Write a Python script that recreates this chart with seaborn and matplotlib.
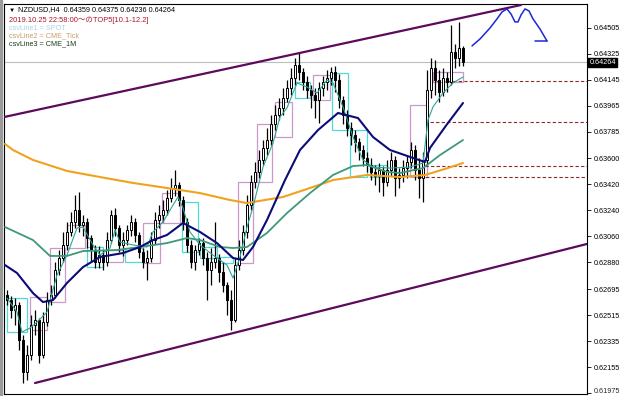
import numpy as np
import matplotlib
matplotlib.use("Agg")
import matplotlib.pyplot as plt
from matplotlib.patches import Rectangle
import seaborn as sns

# ---------------- data (NZDUSD H4) ----------------
open_first = 0.62655
close = [
0.62620,0.62551,0.62585,0.62343,0.62122,0.62239,0.62447,0.62482,0.62239,0.62468,
0.62620,0.62655,0.62828,0.62911,0.63001,0.63091,0.63160,0.63243,0.63139,0.63160,
0.63049,0.62966,0.62883,0.62931,0.62883,0.63035,0.63208,0.63118,0.63001,0.63035,
0.63104,0.63160,0.63070,0.62952,0.62883,0.62911,0.63035,0.63174,0.63208,0.63243,
0.63326,0.63395,0.63416,0.63312,0.63160,0.63001,0.62883,0.62966,0.63014,0.62911,
0.62828,0.62883,0.62911,0.62814,0.62724,0.62620,0.62482,0.62862,0.62966,0.63091,
0.63277,0.63437,0.63506,0.63589,0.63672,0.63727,0.63836,0.63900,0.63949,0.64018,
0.64087,0.64156,0.64246,0.64198,0.64129,0.64073,0.64039,0.64004,0.64087,0.64129,
0.64156,0.64198,0.64142,0.64004,0.63900,0.63810,0.63762,0.63713,0.63658,0.63603,
0.63554,0.63506,0.63478,0.63520,0.63437,0.63520,0.63589,0.63464,0.63485,0.63533,
0.63575,0.63658,0.63520,0.63464,0.63589,0.64073,0.64225,0.64142,0.64059,0.64156,
0.64129,0.64336,0.64295,0.64359,0.64264]
high = [
0.62689,0.62648,0.62634,0.62606,0.62378,0.62309,0.62516,0.62551,0.62495,0.62537,
0.62675,0.62724,0.62883,0.62966,0.63091,0.63160,0.63229,0.63347,0.63367,0.63208,
0.63187,0.63070,0.63001,0.62994,0.62966,0.63091,0.63243,0.63257,0.63139,0.63091,
0.63139,0.63208,0.63187,0.63091,0.62980,0.62966,0.63091,0.63229,0.63277,0.63312,
0.63381,0.63464,0.63520,0.63437,0.63340,0.63187,0.63035,0.63001,0.63049,0.63049,
0.62952,0.62980,0.63160,0.62938,0.62883,0.62745,0.62689,0.62911,0.63035,0.63139,
0.63347,0.63485,0.63575,0.63658,0.63727,0.63810,0.63900,0.63969,0.64018,0.64087,
0.64142,0.64225,0.64295,0.64336,0.64225,0.64170,0.64108,0.64087,0.64129,0.64170,
0.64212,0.64232,0.64239,0.64184,0.64032,0.63935,0.63852,0.63796,0.63741,0.63693,
0.63644,0.63603,0.63554,0.63568,0.63547,0.63589,0.63644,0.63617,0.63533,0.63589,
0.63623,0.63713,0.63693,0.63603,0.63644,0.64212,0.64295,0.64281,0.64212,0.64225,
0.64198,0.64523,0.64392,0.64544,0.64375]
low = [
0.62585,0.62495,0.62447,0.62274,0.62046,0.62066,0.62205,0.62378,0.62184,0.62219,
0.62440,0.62585,0.62634,0.62793,0.62883,0.62966,0.63063,0.63118,0.63091,0.63063,
0.62980,0.62883,0.62841,0.62841,0.62828,0.62855,0.63014,0.63063,0.62952,0.62925,
0.63001,0.63063,0.63021,0.62911,0.62841,0.62758,0.62883,0.63008,0.63118,0.63160,
0.63208,0.63298,0.63340,0.63271,0.63104,0.62952,0.62841,0.62828,0.62931,0.62862,
0.62620,0.62724,0.62841,0.62745,0.62675,0.62516,0.62412,0.62468,0.62828,0.62931,
0.63049,0.63243,0.63395,0.63464,0.63554,0.63623,0.63693,0.63796,0.63866,0.63900,
0.63990,0.64039,0.64108,0.64142,0.64073,0.64018,0.63949,0.63879,0.63845,0.64032,
0.64073,0.64108,0.64059,0.63949,0.63836,0.63755,0.63693,0.63644,0.63589,0.63547,
0.63506,0.63450,0.63416,0.63367,0.63340,0.63409,0.63478,0.63340,0.63395,0.63437,
0.63464,0.63533,0.63450,0.63326,0.63298,0.63554,0.64018,0.64039,0.63990,0.64032,
0.64059,0.64108,0.64225,0.64239,0.64236]

# moving averages (bar index, price)
ma_slow_x = [-0.5,1.5,6.5,15,23.25,31.5,40,48.25,55.75,60,64.5,69,75.75,81.5,90,98.25,104.5,109.5,114]
ma_slow_y = [0.63700,0.63658,0.63589,0.63513,0.63471,0.63430,0.63395,0.63360,0.63312,0.63291,
             0.63312,0.63333,0.63395,0.63450,0.63485,0.63471,0.63485,0.63527,0.63568]
ma_mid_x = [-0.5,6.5,10.75,15,19,27.5,33.25,40,45,48.25,53.25,56.5,60,65,70,75.75,81.5,86.5,90,95,98.25,104,108.25,114]
ma_mid_y = [0.63125,0.63035,0.62925,0.62925,0.62959,0.62966,0.62987,0.63014,0.63049,0.63035,0.62987,0.62980,
            0.62987,0.63084,0.63222,0.63360,0.63485,0.63547,0.63554,0.63506,0.63499,0.63533,0.63623,0.63727]
ma_fast_x = [-0.5,2.5,6.5,9,11.5,15,19,23.25,29,33.25,36.5,40,44,48.25,52.5,56.5,59,61.5,65,69.5,73.25,
             77.75,82.75,87.75,91.5,95.75,101.5,104.5,105.75,110,114]
ma_fast_y = [0.62862,0.62807,0.62668,0.62606,0.62620,0.62738,0.62848,0.62918,0.62945,0.62987,0.63035,0.63070,
             0.63153,0.63091,0.63014,0.62911,0.62897,0.62987,0.63174,0.63450,0.63658,0.63796,0.63914,0.63879,
             0.63748,0.63658,0.63603,0.63575,0.63672,0.63836,0.63983]
ma_tick_x = [0,2.5,3.75,5.75,7.5,10,12.5,15,17.5,19,21.5,23.25,25.75,27,28.25,31.5,35,36.5,39,41.5,42.75,44,
             45.75,48.25,51.5,55,56.5,58.25,60,61.5,64,66.5,68.25,70,72.5,75,77.5,80,81.5,84,86.5,89,91.5,
             95.75,100.75,104,105.25,106.5,109,111.5,114]
ma_tick_y = [0.62634,0.62537,0.62399,0.62426,0.62468,0.62537,0.62793,0.62931,0.63118,0.63125,0.63001,0.62931,
             0.62980,0.63104,0.63021,0.63001,0.62987,0.63091,0.63160,0.63277,0.63333,0.63257,0.63091,0.63001,
             0.62931,0.62862,0.62772,0.62918,0.63125,0.63264,0.63540,0.63706,0.63886,0.63949,0.64122,0.64094,
             0.64052,0.64142,0.64122,0.63956,0.63748,0.63589,0.63540,0.63533,0.63540,0.63568,0.63866,0.63956,
             0.64052,0.64122,0.64163]

# daily boxes (start bar, end bar, open, close)
box_start = [0,5.75,10.75,15,20,25,29.5,34,38.75,43.75,48.25,52.75,57.75,62.5,67,72,76.5,81.25,85.75,90.75,100.75,106.5]
box_end   = [5,10,14.5,19.5,24,29,34,38.25,43.25,47.75,52.5,56.5,61.5,66.25,71.25,75.75,80.75,85.25,90,95,105,114]
box_open  = [0.62634,0.62412,0.62606,0.62980,0.62987,0.62883,0.62980,0.62876,0.63153,0.63298,0.62987,0.62918,
             0.62876,0.63437,0.63748,0.64129,0.64004,0.64191,0.63796,0.63554,0.63471,0.64129]
box_close = [0.62399,0.62641,0.62980,0.63139,0.62848,0.62966,0.62883,0.63153,0.63360,0.62952,0.62911,0.62876,
             0.63437,0.63836,0.63990,0.64018,0.64177,0.63796,0.63471,0.63471,0.63969,0.64198]

# TOP5 levels
level_price = [0.64135, 0.63852, 0.63547, 0.63471]
level_start = [107.25, 105.75, 104.5, 103.25]

# channel
chan_up_x = [-0.75, 128.5]
chan_up_y = [0.63886, 0.64661]
chan_dn_x = [7, 145]
chan_dn_y = [0.62046, 0.63008]

# hand-drawn arrow
arrow_x = [116.25,118.25,120.75,122.5,123.75,125,126,127,127.75,128.5,129.5,130.5,131.5,133.25,135]
arrow_y = [0.64378,0.64426,0.64502,0.64565,0.64613,0.64634,0.64599,0.64544,0.64544,0.64592,0.64634,
           0.64620,0.64565,0.64495,0.64412]
arrow_head_x = [132, 135]
arrow_head_y = [0.64412, 0.64412]

current_price = 0.64264
ytick_vals = [0.64505,0.64325,0.64145,0.63965,0.63785,0.63600,0.63420,0.63240,0.63060,
              0.62880,0.62695,0.62515,0.62335,0.62155,0.61975]
ytick_labels = ["0.64505","0.64325","0.64145","0.63965","0.63785","0.63600","0.63420","0.63240",
                "0.63060","0.62880","0.62695","0.62515","0.62335","0.62155","0.61975"]

# ---------------- drawing ----------------
sns.set_style("white")
plt.rcParams['font.family'] = ['Liberation Sans', 'DejaVu Sans', 'Noto Sans CJK JP']

W, H = 625, 396
fig = plt.figure(figsize=(W / 100, H / 100), dpi=100)
ax = fig.add_axes([4 / W, 2 / H, 583 / W, 390 / H])
ax.set_xlim(-0.75, 145)
ax.set_ylim(0.61970, 0.64668)

closes = np.array(close)
opens = np.array([open_first] + close[:-1])
highs = np.array(high)
lows = np.array(low)
idx = np.arange(len(closes))

# daily boxes
for s, e, o, c in zip(box_start, box_end, box_open, box_close):
    col = '#c99ac9' if c >= o else '#4fd8d8'
    ax.add_patch(Rectangle((s, min(o, c)), e - s, abs(c - o), fill=False,
                           edgecolor=col, lw=0.9, zorder=1.5))

ax.axhline(current_price, color='#bdbdbd', lw=0.8, zorder=1)

# candles
ax.vlines(idx, lows, highs, color='black', lw=0.9, zorder=3)
up = closes >= opens
ax.bar(idx, np.abs(closes - opens) + 0.000015, bottom=np.minimum(opens, closes), width=0.7,
       color=np.where(up, 'white', 'black'), edgecolor='black', linewidth=0.7, zorder=3.5)

# moving averages
sns.lineplot(x=ma_slow_x, y=ma_slow_y, ax=ax, color='#f0a21e', lw=1.5, estimator=None, sort=False, zorder=4)
sns.lineplot(x=ma_mid_x, y=ma_mid_y, ax=ax, color='#3c9a78', lw=1.3, estimator=None, sort=False, zorder=4)
sns.lineplot(x=ma_fast_x, y=ma_fast_y, ax=ax, color='#0c0c78', lw=1.5, estimator=None, sort=False, zorder=4.2)
sns.lineplot(x=ma_tick_x, y=ma_tick_y, ax=ax, color='#2ea595', lw=0.8, estimator=None, sort=False, zorder=4.1)

# levels
ax.hlines(level_price, level_start, 145, colors='#8e2a2a', linestyles=(0, (3, 2)), lw=0.8, zorder=2)

# channel
ax.plot(chan_up_x, chan_up_y, color='#5c0a5c', lw=1.6, zorder=5)
ax.plot(chan_dn_x, chan_dn_y, color='#5c0a5c', lw=1.6, zorder=5)

# arrow
ax.plot(arrow_x, arrow_y, color='#1a28d8', lw=1.1, zorder=6)
ax.plot(arrow_head_x, arrow_head_y, color='#1a28d8', lw=1.1, zorder=6)

# axes styling
ax.yaxis.tick_right()
ax.set_yticks(ytick_vals, labels=ytick_labels[:-1] + [""])
ax.tick_params(axis='y', length=3, width=0.6, pad=1.5, labelsize=5.2, colors='black', direction='out', right=True)
ax.set_xticks([])
for sp in ax.spines.values():
    sp.set_color('black')
    sp.set_linewidth(0.8)

# bottom tick label nudged up so that it stays inside the picture
ax.annotate(ytick_labels[-1], xy=(1.0, ytick_vals[-1]), xycoords=ax.get_yaxis_transform(),
            xytext=(4.6, 1.6), textcoords='offset points', fontsize=5.2, va='center', ha='left',
            annotation_clip=False)

ax.text(1.004, current_price, "0.64264", transform=ax.get_yaxis_transform(), color='white',
        fontsize=5.2, va='center', ha='left', zorder=10, clip_on=False,
        bbox=dict(boxstyle='square,pad=0.12', facecolor='black', edgecolor='black'))

# header texts
def ftext(x, y, s, color, size=5.2):
    fig.text(x / W, 1 - y / H, s, color=color, fontsize=size, va='center', ha='left')

ftext(9, 10, "\u25bc", 'black', size=4.5)
ftext(18, 10, "NZDUSD,H4  0.64359 0.64375 0.64236 0.64264", 'black')
ftext(9, 20, "2019.10.25 22:58:00～のTOP5[10.1-12.2]", '#a8182c', size=5.4)
ftext(9, 28, "csvLine1 = SPOT", '#a9d2e8')
ftext(9, 36, "csvLine2 = CME_Tick", '#c5a06c')
ftext(9, 44, "csvLine3 = CME_1M", '#1c3a1c')

fig.add_artist(Rectangle((0, 0), 2 / W, 1, transform=fig.transFigure, color='#9a9a9a'))

fig.savefig("out.png", dpi=100)
